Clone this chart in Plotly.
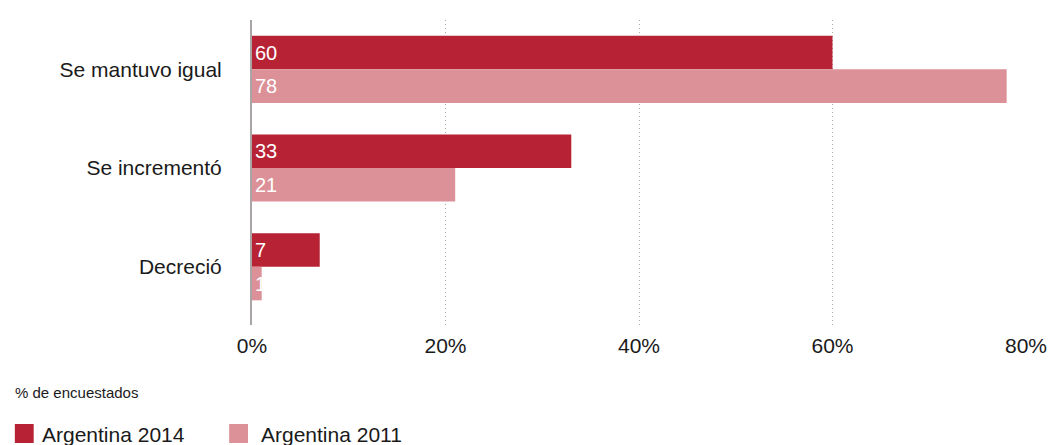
import plotly.graph_objects as go

# Survey answers and share of respondents (%)
categories = ["Se mantuvo igual", "Se incrementó", "Decreció"]
series_names = ["Argentina 2014", "Argentina 2011"]
values_2014 = [60, 33, 7]
values_2011 = [78, 21, 1]
x_ticks = [0, 20, 40, 60, 80]
x_tick_labels = ["0%", "20%", "40%", "60%", "80%"]
axis_note = "% de encuestados"

colors = ["#b82235", "#dc9097"]
font_family = "Liberation Sans, Arial, sans-serif"
text_color = "#1a1a1a"

fig = go.Figure()
for name, vals, col in zip(series_names, [values_2014, values_2011], colors):
    fig.add_trace(go.Bar(
        y=categories, x=vals, name=name, orientation="h",
        marker=dict(color=col, line=dict(width=0)),
        text=[str(v) for v in vals], textposition="inside",
        insidetextanchor="start", constraintext="none",
        textfont=dict(color="white", size=20, family=font_family),
        showlegend=False, cliponaxis=False,
    ))

fig.update_layout(
    width=1059, height=445,
    margin=dict(l=252, r=27, t=20, b=120),
    paper_bgcolor="white", plot_bgcolor="white",
    barmode="group", bargap=0.32, bargroupgap=0.0,
    font=dict(family=font_family, color=text_color),
    xaxis=dict(
        range=[0, 80], tickvals=x_ticks, ticktext=x_tick_labels,
        showgrid=True, gridcolor="#b5a7a2", griddash="1px,3px", gridwidth=1,
        zeroline=False, showline=False, ticks="",
        ticklabelstandoff=6,
        tickfont=dict(size=21, color=text_color),
    ),
    yaxis=dict(
        type="category", range=[2.59, -0.5],
        showline=True, linecolor="#aaa5a5", linewidth=2,
        showgrid=False, zeroline=False, ticks="",
        ticklabelstandoff=24,
        tickfont=dict(size=21, color=text_color),
    ),
)

# Axis note under the chart
fig.add_annotation(
    xref="paper", yref="paper", x=(11 - 252) / 780, y=(325 - 392) / 305,
    xanchor="left", yanchor="middle", text=axis_note, showarrow=False,
    font=dict(size=15, color=text_color, family=font_family),
)

# Legend built from series names and colors
legend_x_px = [13, 229]
legend_text_gap = [25, 30]
for name, col, lx, gap in zip(series_names, colors, legend_x_px, legend_text_gap):
    fig.add_shape(
        type="rect", xref="paper", yref="paper",
        x0=(lx - 252) / 780, x1=(lx + 19 - 252) / 780,
        y0=(325 - 443) / 305, y1=(325 - 424) / 305,
        fillcolor=col, line=dict(width=0),
    )
    fig.add_annotation(
        xref="paper", yref="paper", x=(lx + gap - 252) / 780, y=(325 - 434) / 305,
        xanchor="left", yanchor="middle", text=name, showarrow=False,
        font=dict(size=21, color=text_color, family=font_family),
    )

fig.write_html("out.html")
